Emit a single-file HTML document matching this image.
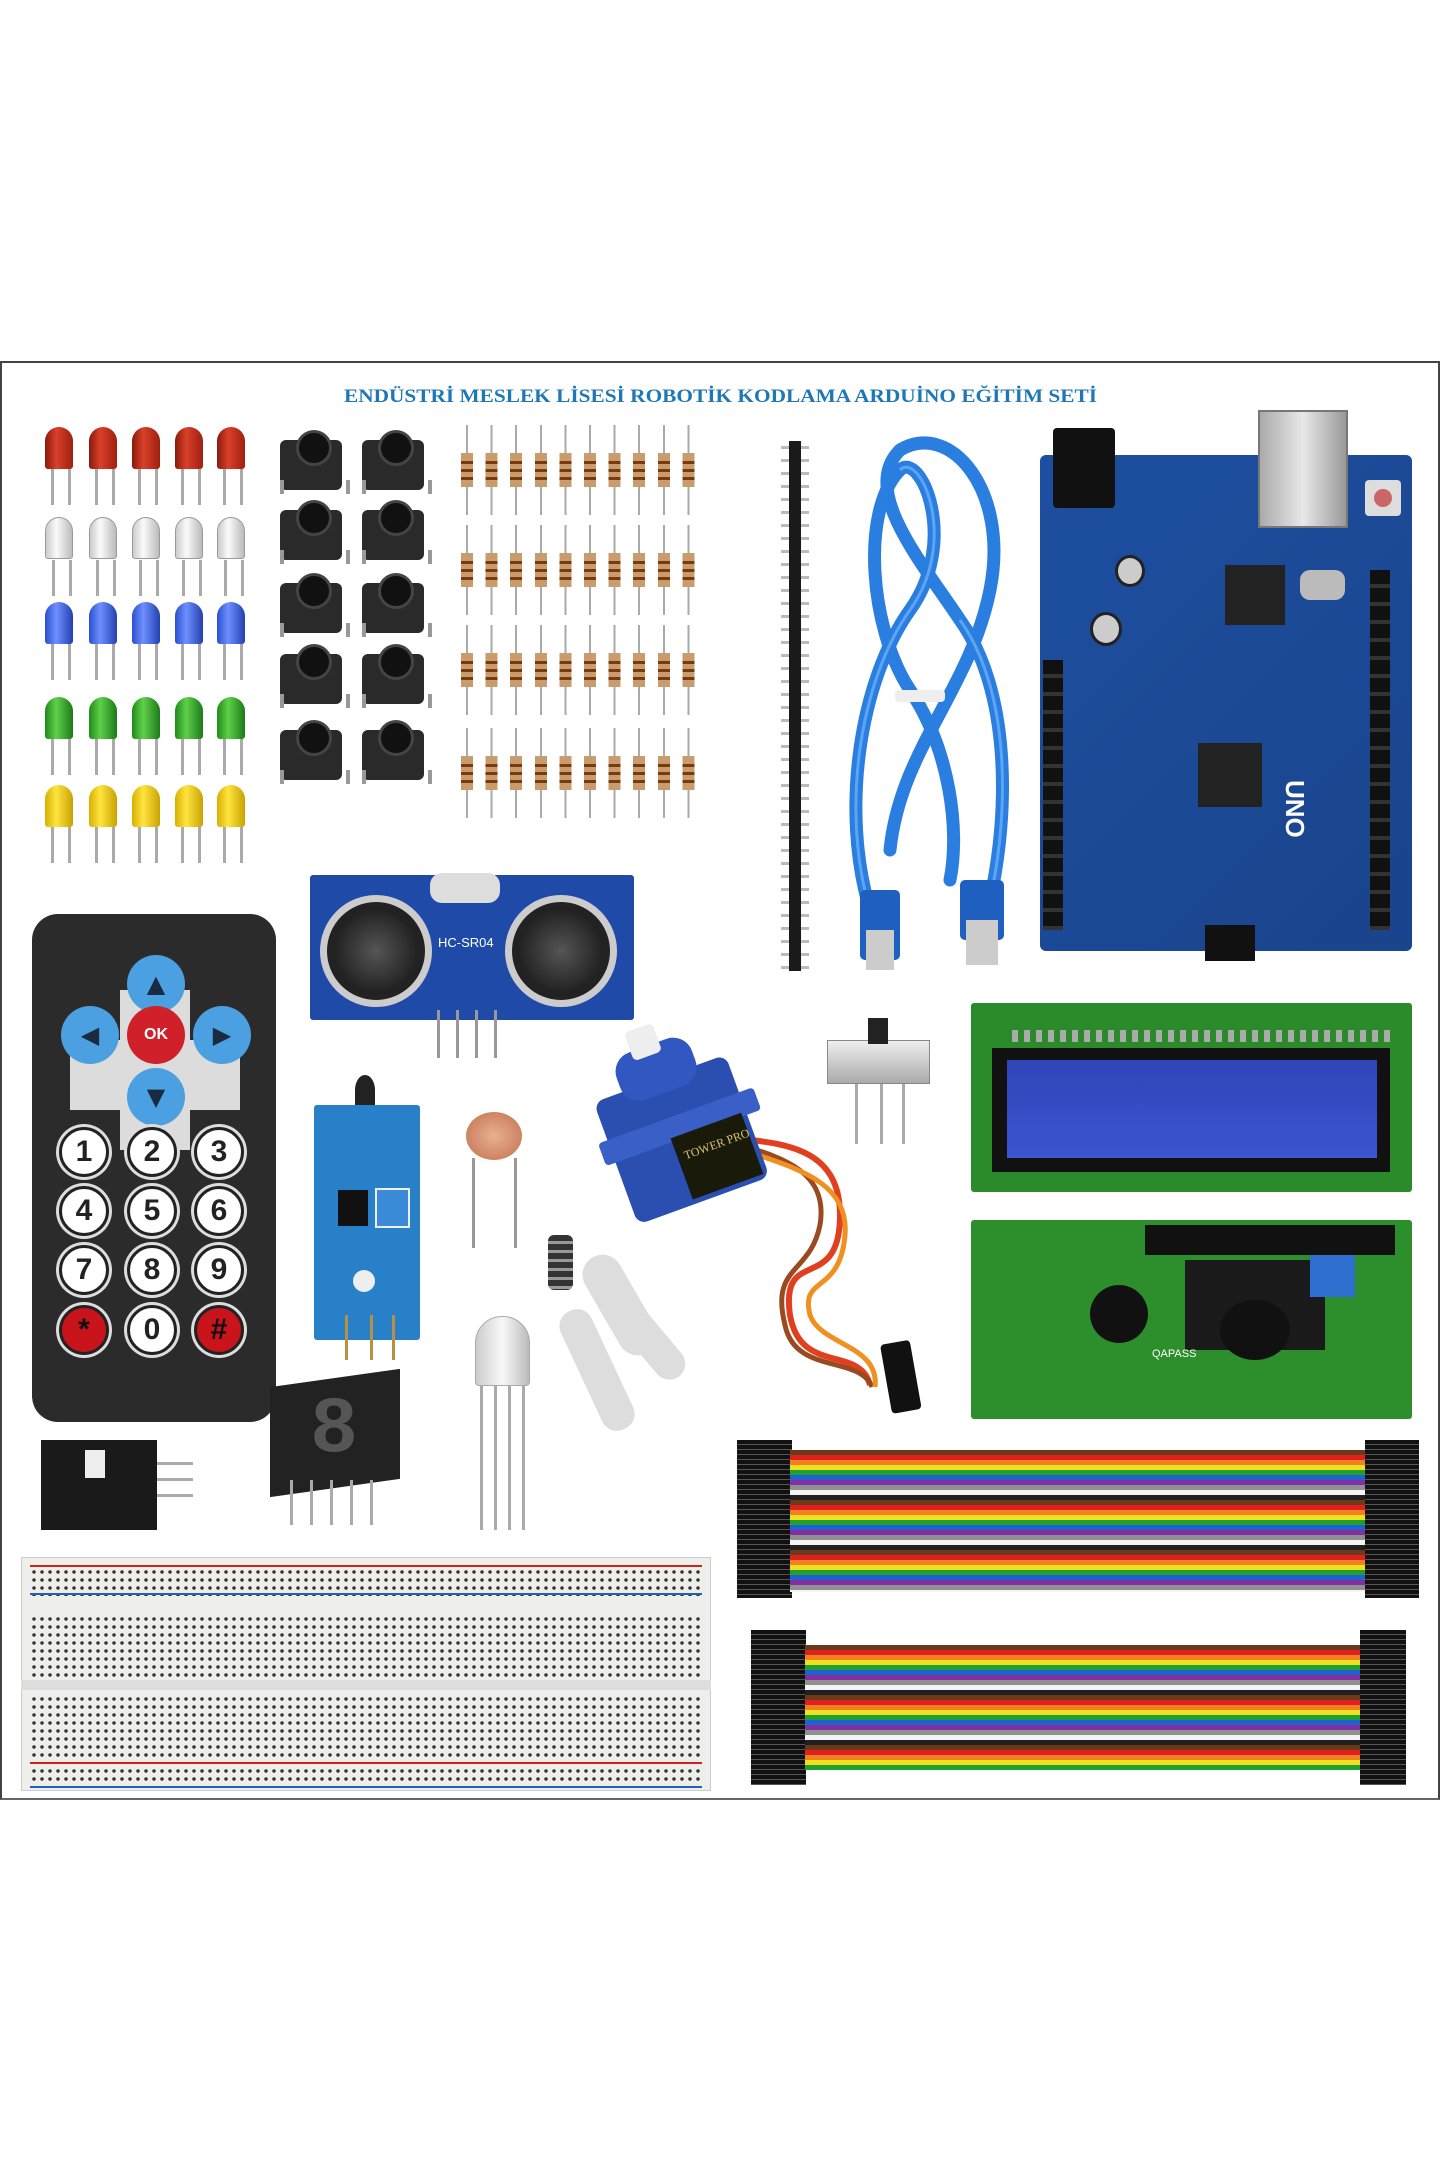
<!DOCTYPE html>
<html><head><meta charset="utf-8"><style>
*{margin:0;padding:0;box-sizing:border-box}
body{width:1440px;height:2160px;background:#fff;position:relative;overflow:hidden;font-family:"Liberation Sans",sans-serif}
.a{position:absolute}
.frame{left:0;top:361px;width:1440px;height:1439px;border:2px solid #444;border-bottom-color:#666}
.led{position:absolute;width:28px;height:42px;border-radius:14px 14px 3px 3px}
.led:after{content:"";position:absolute;left:6px;top:42px;width:14px;height:36px;border-left:3px solid #aaa;border-right:3px solid #aaa}
.r{background:linear-gradient(90deg,#8a1a0a,#d8402a 40%,#a0200f)}
.w{background:linear-gradient(90deg,#ccc,#fafafa 40%,#bbb);border:1px solid #999}
.b{background:linear-gradient(90deg,#2a4fd0,#6f8fff 40%,#2440b0)}
.g{background:linear-gradient(90deg,#1e8a1a,#5fd04a 40%,#1c7a18)}
.y{background:linear-gradient(90deg,#d8b000,#ffe440 40%,#c9a200)}
.btn{position:absolute;width:62px;height:50px;background:#2a2a2a;border-radius:6px}
.btn:before{content:"";position:absolute;left:16px;top:-10px;width:30px;height:30px;border-radius:50%;background:#111;border:3px solid #444}
.btn:after{content:"";position:absolute;left:0;top:40px;width:62px;height:14px;border-left:4px solid #999;border-right:4px solid #999}
.res{position:absolute;left:455px;width:246px;height:90px;background:repeating-linear-gradient(90deg,transparent 0 11px,#aaa 11px 13px,transparent 13px 24.6px)}
.res:after{content:"";position:absolute;left:0;top:28px;width:246px;height:34px;background:repeating-linear-gradient(90deg,transparent 0 6px,#c89c6c 6px 18px,transparent 18px 24.6px)}
.res:before{content:"";position:absolute;left:0;top:33px;width:246px;height:24px;z-index:1;background:repeating-linear-gradient(180deg,transparent 0 3px,#7a3a10 3px 6px,transparent 6px 8px);-webkit-mask:repeating-linear-gradient(90deg,transparent 0 6px,#000 6px 18px,transparent 18px 24.6px)}
.k{position:absolute;width:50px;height:50px;border-radius:50%;background:#fff;border:3px solid #222;box-shadow:0 0 0 3px #ddd;font:bold 30px "Liberation Sans",sans-serif;text-align:center;line-height:44px;color:#222}
.kr{background:#c8141a;color:#111}
.dp{position:absolute;width:58px;height:58px;border-radius:50%;background:#4aa0e0;color:#1a2a40;font:24px "DejaVu Sans",sans-serif;text-align:center;line-height:58px}
.wire{background:repeating-linear-gradient(180deg,#6b3a1a 0 5px,#e02020 5px 10px,#f08020 10px 15px,#f0e020 15px 20px,#20a030 20px 25px,#2060d0 25px 30px,#8030a0 30px 35px,#909090 35px 40px,#f4f4f4 40px 45px,#202020 45px 50px)}
.heads{background:repeating-linear-gradient(180deg,#111 0 4px,#555 4px 5px)}
</style></head><body>
<div class="a frame"></div>
<svg class="a" style="left:0;top:380px" width="1440" height="30"><text x="344" y="22" textLength="753" lengthAdjust="spacingAndGlyphs" font-family="Liberation Serif" font-weight="bold" font-size="19" fill="#1e78b8">ENDÜSTRİ MESLEK LİSESİ ROBOTİK KODLAMA ARDUİNO EĞİTİM SETİ</text></svg>

<!-- LEDs -->
<div class="led r" style="left:45px;top:427px"></div><div class="led r" style="left:89px;top:427px"></div><div class="led r" style="left:132px;top:427px"></div><div class="led r" style="left:175px;top:427px"></div><div class="led r" style="left:217px;top:427px"></div>
<div class="led w" style="left:45px;top:517px"></div><div class="led w" style="left:89px;top:517px"></div><div class="led w" style="left:132px;top:517px"></div><div class="led w" style="left:175px;top:517px"></div><div class="led w" style="left:217px;top:517px"></div>
<div class="led b" style="left:45px;top:602px"></div><div class="led b" style="left:89px;top:602px"></div><div class="led b" style="left:132px;top:602px"></div><div class="led b" style="left:175px;top:602px"></div><div class="led b" style="left:217px;top:602px"></div>
<div class="led g" style="left:45px;top:697px"></div><div class="led g" style="left:89px;top:697px"></div><div class="led g" style="left:132px;top:697px"></div><div class="led g" style="left:175px;top:697px"></div><div class="led g" style="left:217px;top:697px"></div>
<div class="led y" style="left:45px;top:785px"></div><div class="led y" style="left:89px;top:785px"></div><div class="led y" style="left:132px;top:785px"></div><div class="led y" style="left:175px;top:785px"></div><div class="led y" style="left:217px;top:785px"></div>

<!-- buttons -->
<div class="btn" style="left:280px;top:440px"></div><div class="btn" style="left:362px;top:440px"></div>
<div class="btn" style="left:280px;top:510px"></div><div class="btn" style="left:362px;top:510px"></div>
<div class="btn" style="left:280px;top:583px"></div><div class="btn" style="left:362px;top:583px"></div>
<div class="btn" style="left:280px;top:654px"></div><div class="btn" style="left:362px;top:654px"></div>
<div class="btn" style="left:280px;top:730px"></div><div class="btn" style="left:362px;top:730px"></div>

<!-- resistors -->
<div class="res" style="top:425px"></div>
<div class="res" style="top:525px"></div>
<div class="res" style="top:625px"></div>
<div class="res" style="top:728px"></div>

<!-- pin header -->
<div class="a" style="left:781px;top:441px;width:28px;height:530px;background:repeating-linear-gradient(180deg,transparent 0 5px,#bbb 5px 8px,transparent 8px 13px)"></div>
<div class="a" style="left:789px;top:441px;width:12px;height:530px;background:#1a1a1a"></div>

<!-- USB cable -->
<svg class="a" style="left:840px;top:430px" width="200" height="550">
<g fill="none" stroke="#2a7ee0" stroke-width="13" stroke-linecap="round">
<path d="M30 480 C0 380 20 250 70 180 C120 110 80 20 60 40 C20 80 30 200 70 260 C110 320 120 400 110 450"/>
<path d="M150 470 C170 380 170 260 120 190 C80 130 20 60 60 20 C110 -10 170 60 150 160 C130 260 60 320 50 420"/>
</g>
<g fill="none" stroke="#7fc0ff" stroke-width="3" opacity=".6">
<path d="M30 480 C0 380 20 250 70 180 C120 110 80 20 60 40"/>
<path d="M150 470 C170 380 170 260 120 190"/>
</g>
<rect x="55" y="260" width="50" height="12" fill="#eee" rx="4"/>
<rect x="20" y="460" width="40" height="70" rx="5" fill="#1f5fc0"/><rect x="26" y="500" width="28" height="40" fill="#ccc"/>
<rect x="120" y="450" width="44" height="60" rx="5" fill="#1f5fc0"/><rect x="126" y="490" width="32" height="45" fill="#ccc"/>
</svg>

<!-- Arduino -->
<div class="a" style="left:1040px;top:455px;width:372px;height:496px;background:linear-gradient(135deg,#1d4fa0,#1a448c);border-radius:6px"></div>
<div class="a" style="left:1053px;top:428px;width:62px;height:80px;background:#111;border-radius:4px"></div>
<div class="a" style="left:1258px;top:410px;width:90px;height:118px;background:linear-gradient(90deg,#aaa,#e8e8e8,#999);border:2px solid #777"></div>
<div class="a" style="left:1365px;top:480px;width:36px;height:36px;background:#ddd;border-radius:4px"><div style="margin:9px;width:18px;height:18px;border-radius:50%;background:#c66"></div></div>
<div class="a" style="left:1370px;top:570px;width:20px;height:360px;background:repeating-linear-gradient(180deg,#111 0 14px,#333 14px 18px)"></div>
<div class="a" style="left:1043px;top:660px;width:20px;height:270px;background:repeating-linear-gradient(180deg,#111 0 14px,#333 14px 18px)"></div>
<div class="a" style="left:1115px;top:555px;width:30px;height:32px;border-radius:50%;background:#ccc;border:3px solid #222"></div>
<div class="a" style="left:1090px;top:612px;width:32px;height:34px;border-radius:50%;background:#ccc;border:3px solid #222"></div>
<div class="a" style="left:1225px;top:565px;width:60px;height:60px;background:#222"></div>
<div class="a" style="left:1300px;top:570px;width:45px;height:30px;background:#bbb;border-radius:10px"></div>
<div class="a" style="left:1198px;top:743px;width:64px;height:64px;background:#222;transform:rotate(0deg)"></div>
<div class="a" style="left:1280px;top:780px;width:30px;height:68px;color:#fff;font:bold 26px 'Liberation Sans';transform:rotate(90deg);transform-origin:left top;left:1310px">UNO</div>
<div class="a" style="left:1205px;top:925px;width:50px;height:36px;background:#111"></div>

<!-- Remote -->
<div class="a" style="left:32px;top:914px;width:244px;height:508px;background:#2b2b2b;border-radius:26px"></div>
<div class="a" style="left:120px;top:990px;width:70px;height:160px;background:#dcdcdc"></div>
<div class="a" style="left:70px;top:1040px;width:170px;height:70px;background:#dcdcdc"></div>
<div class="dp" style="left:127px;top:955px">▲</div>
<div class="dp" style="left:61px;top:1006px">◀</div>
<div class="dp" style="left:193px;top:1006px">▶</div>
<div class="dp" style="left:127px;top:1068px">▼</div>
<div class="dp" style="left:127px;top:1006px;background:#d0202a;color:#fff;font:bold 16px 'Liberation Sans';line-height:58px">OK</div>
<div class="k" style="left:59px;top:1127px">1</div><div class="k" style="left:127px;top:1127px">2</div><div class="k" style="left:194px;top:1127px">3</div>
<div class="k" style="left:59px;top:1186px">4</div><div class="k" style="left:127px;top:1186px">5</div><div class="k" style="left:194px;top:1186px">6</div>
<div class="k" style="left:59px;top:1245px">7</div><div class="k" style="left:127px;top:1245px">8</div><div class="k" style="left:194px;top:1245px">9</div>
<div class="k kr" style="left:59px;top:1305px">*</div><div class="k" style="left:127px;top:1305px">0</div><div class="k kr" style="left:194px;top:1305px">#</div>

<!-- Ultrasonic -->
<div class="a" style="left:310px;top:875px;width:324px;height:145px;background:#1f4aa8;border-radius:3px"></div>
<div class="a" style="left:430px;top:873px;width:70px;height:30px;background:#ddd;border-radius:12px"></div>
<div class="a" style="left:320px;top:895px;width:112px;height:112px;border-radius:50%;background:radial-gradient(#555,#222 60%);border:7px solid #ccc"></div>
<div class="a" style="left:505px;top:895px;width:112px;height:112px;border-radius:50%;background:radial-gradient(#555,#222 60%);border:7px solid #ccc"></div>
<div class="a" style="left:438px;top:935px;color:#fff;font:13px 'Liberation Sans'">HC-SR04</div>
<div class="a" style="left:437px;top:1010px;width:60px;height:48px;border-left:3px solid #999;border-right:3px solid #999;background:linear-gradient(90deg,transparent 16px,#999 16px 19px,transparent 19px 35px,#999 35px 38px,transparent 38px)"></div>

<!-- slide switch -->
<div class="a" style="left:827px;top:1040px;width:103px;height:44px;background:linear-gradient(#eee,#aaa);border:1px solid #888"></div>
<div class="a" style="left:868px;top:1018px;width:20px;height:26px;background:#222"></div>
<div class="a" style="left:855px;top:1084px;width:50px;height:60px;border-left:3px solid #aaa;border-right:3px solid #aaa;background:linear-gradient(90deg,transparent 22px,#aaa 22px 25px,transparent 25px)"></div>

<!-- LCD front -->
<div class="a" style="left:971px;top:1003px;width:441px;height:189px;background:#2b8a2a;border-radius:3px"></div>
<div class="a" style="left:1012px;top:1030px;width:380px;height:12px;background:repeating-linear-gradient(90deg,#aaa 0 6px,transparent 6px 12px)"></div>
<div class="a" style="left:992px;top:1048px;width:398px;height:124px;background:#111"></div>
<div class="a" style="left:1007px;top:1060px;width:370px;height:98px;background:linear-gradient(#2f44b8,#3c55d0)"></div>
<!-- LCD back -->
<div class="a" style="left:971px;top:1220px;width:441px;height:199px;background:#2c8f2c;border-radius:3px"></div>
<div class="a" style="left:1145px;top:1225px;width:250px;height:30px;background:#111"></div>
<div class="a" style="left:1185px;top:1260px;width:140px;height:90px;background:#1a1a1a"></div>
<div class="a" style="left:1310px;top:1255px;width:45px;height:42px;background:#2f6fcf"></div>
<div class="a" style="left:1090px;top:1285px;width:58px;height:58px;border-radius:50%;background:#111"></div>
<div class="a" style="left:1220px;top:1300px;width:70px;height:60px;border-radius:50%;background:#111"></div>
<div class="a" style="left:1152px;top:1348px;color:#fff;font:11px 'Liberation Sans'">QAPASS</div>

<!-- Servo -->
<svg class="a" style="left:580px;top:1015px" width="360" height="400">
<path d="M140 120 C180 130 260 120 260 200 C260 280 200 230 210 300 C220 360 280 330 290 370" fill="none" stroke="#e04020" stroke-width="6"/>
<path d="M145 125 C190 140 250 150 240 210 C230 260 190 250 205 310 C215 360 280 340 292 372" fill="none" stroke="#9a4a20" stroke-width="5"/>
<path d="M150 130 C200 150 270 160 265 220 C260 280 220 260 230 300 C240 330 300 330 295 372" fill="none" stroke="#f09020" stroke-width="5"/>
<rect x="300" y="330" width="30" height="70" rx="4" fill="#111" transform="rotate(-10 300 330)"/>
<g transform="rotate(-20 100 120)">
<rect x="30" y="60" width="140" height="130" rx="10" fill="#2a4fb0"/>
<rect x="20" y="100" width="165" height="24" rx="4" fill="#3a60c8"/>
<rect x="60" y="25" width="80" height="50" rx="20" fill="#3158c0"/>
<rect x="82" y="5" width="30" height="30" rx="5" fill="#eee"/>
<rect x="90" y="120" width="75" height="65" fill="#1a1a0a"/>
<text x="97" y="145" font-family="Liberation Serif" font-size="12" fill="#d8c070">TOWER PRO</text>
</g>
</svg>

<!-- sensor module -->
<div class="a" style="left:314px;top:1105px;width:106px;height:235px;background:#2880c8;border-radius:3px"></div>
<div class="a" style="left:355px;top:1075px;width:20px;height:30px;background:#222;border-radius:50% 50% 0 0"></div>
<div class="a" style="left:338px;top:1190px;width:30px;height:36px;background:#111"></div>
<div class="a" style="left:375px;top:1188px;width:35px;height:40px;background:#3a8ad8;border:2px solid #eee"></div>
<div class="a" style="left:353px;top:1270px;width:22px;height:22px;border-radius:50%;background:#eee"></div>
<div class="a" style="left:345px;top:1315px;width:50px;height:45px;border-left:3px solid #b89040;border-right:3px solid #b89040;background:linear-gradient(90deg,transparent 22px,#b89040 22px 25px,transparent 25px)"></div>

<!-- LDR -->
<div class="a" style="left:466px;top:1112px;width:56px;height:48px;border-radius:50%;background:radial-gradient(#e8b090,#c07050)"></div>
<div class="a" style="left:472px;top:1158px;width:45px;height:90px;border-left:3px solid #999;border-right:3px solid #999"></div>
<!-- screws -->
<div class="a" style="left:548px;top:1235px;width:25px;height:55px;background:repeating-linear-gradient(180deg,#333 0 6px,#999 6px 9px);border-radius:6px"></div>
<!-- horns -->
<div class="a" style="left:600px;top:1250px;width:40px;height:110px;background:#ddd;border-radius:20px;transform:rotate(-30deg)"></div>
<div class="a" style="left:625px;top:1270px;width:32px;height:120px;background:#ddd;border-radius:16px;transform:rotate(-40deg)"></div>
<div class="a" style="left:580px;top:1305px;width:34px;height:130px;background:#ddd;border-radius:16px;transform:rotate(-25deg)"></div>

<!-- RGB LED -->
<div class="a" style="left:475px;top:1316px;width:55px;height:70px;background:linear-gradient(90deg,#ccc,#f8f8f8,#bbb);border-radius:27px 27px 4px 4px;border:1px solid #aaa"></div>
<div class="a" style="left:480px;top:1385px;width:45px;height:145px;background:repeating-linear-gradient(90deg,#aaa 0 3px,transparent 3px 14px)"></div>

<!-- 7 seg -->
<div class="a" style="left:270px;top:1378px;width:130px;height:110px;background:#222;transform:skewY(-8deg)"></div>
<div class="a" style="left:310px;top:1385px;font:bold 80px 'Liberation Mono';color:#555">8</div>
<div class="a" style="left:290px;top:1480px;width:95px;height:45px;background:repeating-linear-gradient(90deg,#aaa 0 3px,transparent 3px 20px)"></div>

<!-- IR receiver -->
<div class="a" style="left:41px;top:1440px;width:116px;height:90px;background:#1a1a1a"></div>
<div class="a" style="left:85px;top:1450px;width:20px;height:28px;background:#eee"></div>
<div class="a" style="left:157px;top:1462px;width:36px;height:40px;background:repeating-linear-gradient(180deg,#aaa 0 3px,transparent 3px 16px)"></div>

<!-- breadboard -->
<div class="a" style="left:21px;top:1557px;width:690px;height:234px;background:#eeeeea;border:1px solid #ccc"></div>
<div class="a" style="left:30px;top:1568px;width:672px;height:28px;background:radial-gradient(circle,#333 1.5px,transparent 2px) 0 0/8px 8px"></div>
<div class="a" style="left:30px;top:1593px;width:672px;height:2px;background:#2060c0"></div>
<div class="a" style="left:30px;top:1565px;width:672px;height:2px;background:#d02020"></div>
<div class="a" style="left:30px;top:1615px;width:672px;height:62px;background:radial-gradient(circle,#333 1.5px,transparent 2px) 0 0/8px 8px"></div>
<div class="a" style="left:21px;top:1680px;width:690px;height:10px;background:#ddd"></div>
<div class="a" style="left:30px;top:1695px;width:672px;height:62px;background:radial-gradient(circle,#333 1.5px,transparent 2px) 0 0/8px 8px"></div>
<div class="a" style="left:30px;top:1762px;width:672px;height:2px;background:#d02020"></div>
<div class="a" style="left:30px;top:1767px;width:672px;height:18px;background:radial-gradient(circle,#333 1.5px,transparent 2px) 0 0/8px 8px"></div>
<div class="a" style="left:30px;top:1786px;width:672px;height:2px;background:#2060c0"></div>

<!-- jumper wires -->
<div class="a heads" style="left:737px;top:1440px;width:55px;height:158px"></div>
<div class="a wire" style="left:790px;top:1450px;width:575px;height:142px"></div>
<div class="a heads" style="left:1365px;top:1440px;width:54px;height:158px"></div>
<div class="a heads" style="left:751px;top:1630px;width:55px;height:155px"></div>
<div class="a wire" style="left:805px;top:1645px;width:560px;height:125px"></div>
<div class="a heads" style="left:1360px;top:1630px;width:46px;height:155px"></div>
</body></html>
